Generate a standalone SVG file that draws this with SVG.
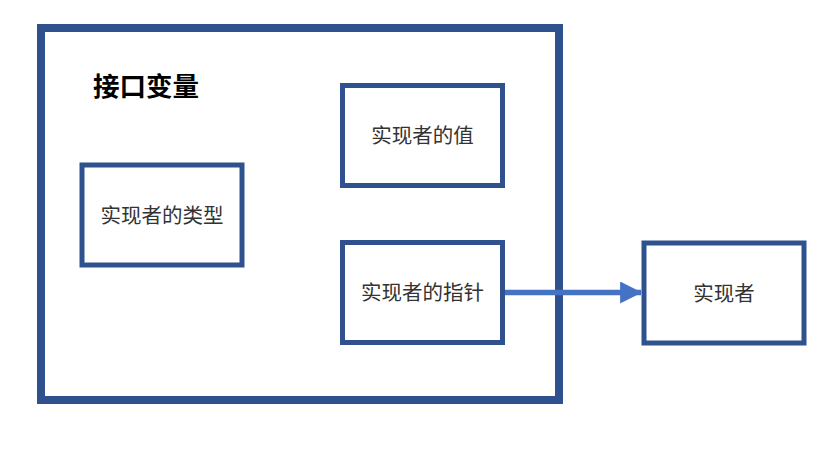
<svg xmlns="http://www.w3.org/2000/svg" width="831" height="449" viewBox="0 0 831 449">
<style>
.box{fill:#fff;stroke:#2F528F;stroke-width:5}
.t{font-family:"Noto Sans CJK SC","Noto Sans",sans-serif;font-size:20.5px;fill:#333;text-anchor:middle;dominant-baseline:central}
.title{font-family:"Noto Sans CJK SC","Noto Sans",sans-serif;font-size:26.5px;font-weight:bold;fill:#000;dominant-baseline:central}
</style>
<defs>
<marker id="ah" markerWidth="4" markerHeight="4" refX="3.8" refY="2" orient="auto" markerUnits="strokeWidth" viewBox="0 0 4 4">
<path d="M0,0 L4,2 L0,4 Z" fill="#4472C4"/>
</marker>
</defs>
<rect width="831" height="449" fill="#fff"/>
<g id="outer">
<rect x="41" y="28" width="518" height="372" fill="#fff" stroke="#2F528F" stroke-width="8"/>
<text class="title" x="93" y="84">接口变量</text>
</g>
<g id="type">
<rect class="box" x="82" y="165" width="160" height="100"/>
<text class="t" x="162" y="213.5">实现者的类型</text>
</g>
<g id="value">
<rect class="box" x="342.5" y="85.5" width="160" height="100"/>
<text class="t" x="422.5" y="134">实现者的值</text>
</g>
<g id="pointer">
<rect class="box" x="342.5" y="242.5" width="160" height="100"/>
<text class="t" x="422.5" y="291">实现者的指针</text>
</g>
<g id="impl">
<rect class="box" x="644" y="243" width="160" height="100"/>
<text class="t" x="724" y="291.5">实现者</text>
</g>
<g id="connectors">
<line x1="505" y1="292.5" x2="641" y2="292.5" stroke="#4472C4" stroke-width="5.5" marker-end="url(#ah)"/>
</g>
</svg>
